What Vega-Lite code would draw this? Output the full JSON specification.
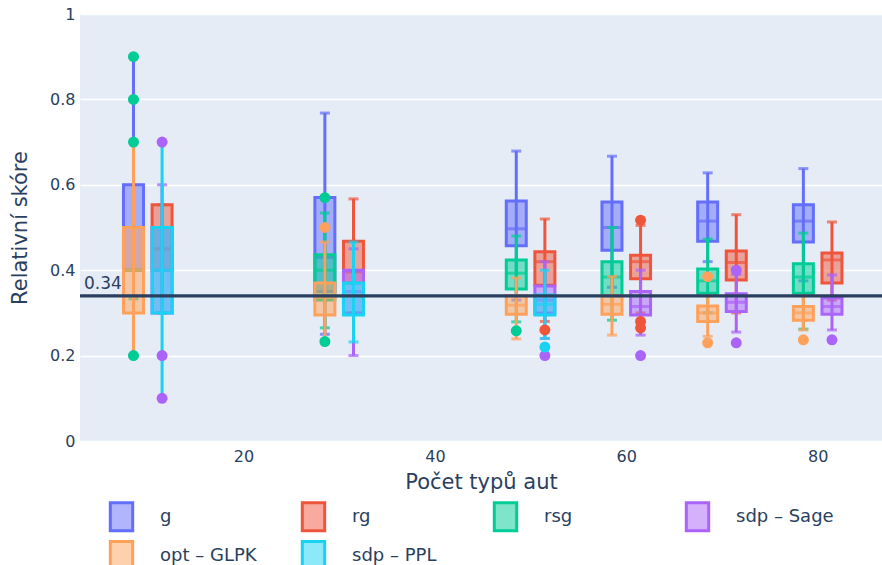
{
"$schema": "https://vega.github.io/schema/vega-lite/v6.json",
"width": 802, "height": 427,
"autosize": {"type": "none"},
"padding": {"left": 80, "top": 14, "right": 0, "bottom": 124},
"background": "white",
"datasets": {
"boxes": [
{"trace":"g","side":"L","n":10,"lower":0.2,"q1":0.4,"median":0.5,"q3":0.6,"upper":0.9},
{"trace":"g","side":"L","n":30,"lower":0.25,"q1":0.35,"median":0.43,"q3":0.57,"upper":0.768},
{"trace":"g","side":"L","n":50,"lower":0.33,"q1":0.457,"median":0.497,"q3":0.562,"upper":0.679},
{"trace":"g","side":"L","n":60,"lower":0.36,"q1":0.447,"median":0.5,"q3":0.56,"upper":0.667},
{"trace":"g","side":"L","n":70,"lower":0.42,"q1":0.468,"median":0.515,"q3":0.56,"upper":0.628},
{"trace":"g","side":"L","n":80,"lower":0.375,"q1":0.466,"median":0.515,"q3":0.553,"upper":0.638},
{"trace":"rg","side":"R","n":10,"lower":0.3,"q1":0.4,"median":0.45,"q3":0.553,"upper":0.553},
{"trace":"rg","side":"R","n":30,"lower":0.3,"q1":0.37,"median":0.396,"q3":0.468,"upper":0.567},
{"trace":"rg","side":"R","n":50,"lower":0.28,"q1":0.365,"median":0.42,"q3":0.443,"upper":0.52},
{"trace":"rg","side":"R","n":60,"lower":0.3,"q1":0.38,"median":0.42,"q3":0.435,"upper":0.505},
{"trace":"rg","side":"R","n":70,"lower":0.3,"q1":0.377,"median":0.418,"q3":0.445,"upper":0.53},
{"trace":"rg","side":"R","n":80,"lower":0.33,"q1":0.37,"median":0.424,"q3":0.44,"upper":0.513},
{"trace":"rsg","side":"L","n":10,"lower":0.333,"q1":0.4,"median":0.4,"q3":0.4,"upper":0.4},
{"trace":"rsg","side":"L","n":30,"lower":0.265,"q1":0.33,"median":0.4,"q3":0.436,"upper":0.534},
{"trace":"rsg","side":"L","n":50,"lower":0.279,"q1":0.356,"median":0.393,"q3":0.424,"upper":0.48},
{"trace":"rsg","side":"L","n":60,"lower":0.283,"q1":0.34,"median":0.384,"q3":0.42,"upper":0.5},
{"trace":"rsg","side":"L","n":70,"lower":0.3,"q1":0.346,"median":0.375,"q3":0.403,"upper":0.473},
{"trace":"rsg","side":"L","n":80,"lower":0.262,"q1":0.346,"median":0.384,"q3":0.415,"upper":0.487},
{"trace":"sdp – Sage","side":"R","n":10,"lower":0.3,"q1":0.3,"median":0.4,"q3":0.5,"upper":0.6},
{"trace":"sdp – Sage","side":"R","n":30,"lower":0.2,"q1":0.3,"median":0.35,"q3":0.4,"upper":0.45},
{"trace":"sdp – Sage","side":"R","n":50,"lower":0.24,"q1":0.3,"median":0.33,"q3":0.363,"upper":0.42},
{"trace":"sdp – Sage","side":"R","n":60,"lower":0.248,"q1":0.295,"median":0.315,"q3":0.35,"upper":0.4},
{"trace":"sdp – Sage","side":"R","n":70,"lower":0.255,"q1":0.303,"median":0.325,"q3":0.345,"upper":0.39},
{"trace":"sdp – Sage","side":"R","n":80,"lower":0.26,"q1":0.297,"median":0.315,"q3":0.335,"upper":0.389},
{"trace":"opt – GLPK","side":"L","n":10,"lower":0.2,"q1":0.3,"median":0.4,"q3":0.5,"upper":0.7},
{"trace":"opt – GLPK","side":"L","n":30,"lower":0.237,"q1":0.295,"median":0.337,"q3":0.37,"upper":0.466},
{"trace":"opt – GLPK","side":"L","n":50,"lower":0.239,"q1":0.297,"median":0.318,"q3":0.34,"upper":0.382},
{"trace":"opt – GLPK","side":"L","n":60,"lower":0.248,"q1":0.297,"median":0.32,"q3":0.34,"upper":0.385},
{"trace":"opt – GLPK","side":"L","n":70,"lower":0.245,"q1":0.28,"median":0.3,"q3":0.316,"upper":0.34},
{"trace":"opt – GLPK","side":"L","n":80,"lower":0.26,"q1":0.283,"median":0.3,"q3":0.315,"upper":0.34},
{"trace":"sdp – PPL","side":"R","n":10,"lower":0.1,"q1":0.3,"median":0.4,"q3":0.5,"upper":0.7},
{"trace":"sdp – PPL","side":"R","n":30,"lower":0.232,"q1":0.295,"median":0.34,"q3":0.37,"upper":0.466},
{"trace":"sdp – PPL","side":"R","n":50,"lower":0.24,"q1":0.295,"median":0.32,"q3":0.342,"upper":0.4}
],
"outliers": [
{"trace":"rsg","side":"L","n":10,"value":0.9},
{"trace":"rsg","side":"L","n":10,"value":0.8},
{"trace":"rsg","side":"L","n":10,"value":0.7},
{"trace":"rsg","side":"L","n":10,"value":0.2},
{"trace":"sdp – Sage","side":"R","n":10,"value":0.7},
{"trace":"sdp – Sage","side":"R","n":10,"value":0.2},
{"trace":"sdp – Sage","side":"R","n":10,"value":0.1},
{"trace":"rsg","side":"L","n":30,"value":0.57},
{"trace":"rsg","side":"L","n":30,"value":0.233},
{"trace":"opt – GLPK","side":"L","n":30,"value":0.5},
{"trace":"rsg","side":"L","n":50,"value":0.258},
{"trace":"rg","side":"R","n":50,"value":0.26},
{"trace":"sdp – Sage","side":"R","n":50,"value":0.2},
{"trace":"sdp – PPL","side":"R","n":50,"value":0.22},
{"trace":"rg","side":"R","n":60,"value":0.517},
{"trace":"rg","side":"R","n":60,"value":0.28},
{"trace":"rg","side":"R","n":60,"value":0.265},
{"trace":"sdp – Sage","side":"R","n":60,"value":0.2},
{"trace":"opt – GLPK","side":"L","n":70,"value":0.385},
{"trace":"opt – GLPK","side":"L","n":70,"value":0.23},
{"trace":"sdp – Sage","side":"R","n":70,"value":0.4},
{"trace":"sdp – Sage","side":"R","n":70,"value":0.23},
{"trace":"opt – GLPK","side":"L","n":80,"value":0.237},
{"trace":"sdp – Sage","side":"R","n":80,"value":0.237}
],
"ref": [{"value": 0.34, "label": "0.34"}]
},
"config": {
"font": "DejaVu Sans",
"view": {"fill": "#E5ECF6", "stroke": null},
"axis": {"domain": false, "ticks": false, "gridColor": "white", "gridWidth": 1.3, "labelColor": "#2a3f5f", "labelFontSize": 16, "titleColor": "#2a3f5f", "titleFontSize": 21, "titleFontWeight": "normal"}
},
"layer": [
 {"data": {"name": "boxes"}, "transform": [{"filter": "datum.trace === 'g'"}], "mark": {"type": "rule", "strokeWidth": 3, "color": "#636EFA", "xOffset": -14.3}, "encoding": {"x": {"field": "n", "type": "quantitative", "scale": {"domain": [3.44, 86.2], "nice": false, "zero": false}, "axis": {"values": [20, 40, 60, 80], "grid": false, "labelPadding": 7, "titlePadding": 7}, "title": "Počet typů aut"}, "y": {"field": "lower", "type": "quantitative"}, "y2": {"field": "upper"}}},
 {"data": {"name": "boxes"}, "transform": [{"filter": "datum.trace === 'g'"}], "mark": {"type": "tick", "orient": "horizontal", "size": 10, "thickness": 3, "color": "#636EFA", "xOffset": -14.3}, "encoding": {"x": {"field": "n", "type": "quantitative"}, "y": {"field": "lower", "type": "quantitative"}}},
 {"data": {"name": "boxes"}, "transform": [{"filter": "datum.trace === 'g'"}], "mark": {"type": "tick", "orient": "horizontal", "size": 10, "thickness": 3, "color": "#636EFA", "xOffset": -14.3}, "encoding": {"x": {"field": "n", "type": "quantitative"}, "y": {"field": "upper", "type": "quantitative"}}},
 {"data": {"name": "boxes"}, "transform": [{"filter": "datum.trace === 'g'"}], "mark": {"type": "bar", "size": 20, "fillOpacity": 0.5, "strokeWidth": 3, "xOffset": -14.3}, "encoding": {"x": {"field": "n", "type": "quantitative"}, "y": {"field": "q1", "type": "quantitative"}, "y2": {"field": "q3"},
   "fill": {"field": "trace", "type": "nominal", "scale": {"domain": ["g", "rg", "rsg", "sdp – Sage", "opt – GLPK", "sdp – PPL"], "range": ["#636EFA", "#EF553B", "#00CC96", "#AB63FA", "#FFA15A", "#19D3F3"]},
     "legend": {"orient": "none", "legendX": 26, "legendY": 487, "direction": "horizontal", "columns": 4, "gridAlign": "all", "columnPadding": 38, "rowPadding": -2, "symbolType": "M-0.8,-1H0.8V1H-0.8Z", "symbolSize": 784, "symbolStrokeWidth": 3, "labelFontSize": 18, "labelColor": "#2a3f5f", "labelOffset": 23, "labelLimit": 300, "padding": 0, "title": null,
       "encode": {"symbols": {"update": {"fillOpacity": {"value": 0.5}, "stroke": {"scale": "stroke", "field": "value"}, "strokeWidth": {"value": 3}}}}}},
   "stroke": {"field": "trace", "type": "nominal", "legend": null, "scale": {"domain": ["g", "rg", "rsg", "sdp – Sage", "opt – GLPK", "sdp – PPL"], "range": ["#636EFA", "#EF553B", "#00CC96", "#AB63FA", "#FFA15A", "#19D3F3"]}}}},
 {"data": {"name": "boxes"}, "transform": [{"filter": "datum.trace === 'g'"}], "mark": {"type": "tick", "orient": "horizontal", "size": 20, "thickness": 3, "color": "#636EFA", "xOffset": -14.3}, "encoding": {"x": {"field": "n", "type": "quantitative"}, "y": {"field": "median", "type": "quantitative"}}},

 {"data": {"name": "boxes"}, "transform": [{"filter": "datum.trace === 'rg'"}], "mark": {"type": "rule", "strokeWidth": 3, "color": "#EF553B", "xOffset": 14.3}, "encoding": {"x": {"field": "n", "type": "quantitative"}, "y": {"field": "lower", "type": "quantitative"}, "y2": {"field": "upper"}}},
 {"data": {"name": "boxes"}, "transform": [{"filter": "datum.trace === 'rg'"}], "mark": {"type": "tick", "orient": "horizontal", "size": 10, "thickness": 3, "color": "#EF553B", "xOffset": 14.3}, "encoding": {"x": {"field": "n", "type": "quantitative"}, "y": {"field": "lower", "type": "quantitative"}}},
 {"data": {"name": "boxes"}, "transform": [{"filter": "datum.trace === 'rg'"}], "mark": {"type": "tick", "orient": "horizontal", "size": 10, "thickness": 3, "color": "#EF553B", "xOffset": 14.3}, "encoding": {"x": {"field": "n", "type": "quantitative"}, "y": {"field": "upper", "type": "quantitative"}}},
 {"data": {"name": "boxes"}, "transform": [{"filter": "datum.trace === 'rg'"}], "mark": {"type": "bar", "size": 20, "fillOpacity": 0.5, "strokeWidth": 3, "xOffset": 14.3}, "encoding": {"x": {"field": "n", "type": "quantitative"}, "y": {"field": "q1", "type": "quantitative"}, "y2": {"field": "q3"}, "fill": {"field": "trace", "type": "nominal"}, "stroke": {"field": "trace", "type": "nominal", "legend": null}}},
 {"data": {"name": "boxes"}, "transform": [{"filter": "datum.trace === 'rg'"}], "mark": {"type": "tick", "orient": "horizontal", "size": 20, "thickness": 3, "color": "#EF553B", "xOffset": 14.3}, "encoding": {"x": {"field": "n", "type": "quantitative"}, "y": {"field": "median", "type": "quantitative"}}},

 {"data": {"name": "boxes"}, "transform": [{"filter": "datum.trace === 'rsg'"}], "mark": {"type": "rule", "strokeWidth": 3, "color": "#00CC96", "xOffset": -14.3}, "encoding": {"x": {"field": "n", "type": "quantitative"}, "y": {"field": "lower", "type": "quantitative"}, "y2": {"field": "upper"}}},
 {"data": {"name": "boxes"}, "transform": [{"filter": "datum.trace === 'rsg'"}], "mark": {"type": "tick", "orient": "horizontal", "size": 10, "thickness": 3, "color": "#00CC96", "xOffset": -14.3}, "encoding": {"x": {"field": "n", "type": "quantitative"}, "y": {"field": "lower", "type": "quantitative"}}},
 {"data": {"name": "boxes"}, "transform": [{"filter": "datum.trace === 'rsg'"}], "mark": {"type": "tick", "orient": "horizontal", "size": 10, "thickness": 3, "color": "#00CC96", "xOffset": -14.3}, "encoding": {"x": {"field": "n", "type": "quantitative"}, "y": {"field": "upper", "type": "quantitative"}}},
 {"data": {"name": "boxes"}, "transform": [{"filter": "datum.trace === 'rsg'"}], "mark": {"type": "bar", "size": 20, "fillOpacity": 0.5, "strokeWidth": 3, "xOffset": -14.3}, "encoding": {"x": {"field": "n", "type": "quantitative"}, "y": {"field": "q1", "type": "quantitative"}, "y2": {"field": "q3"}, "fill": {"field": "trace", "type": "nominal"}, "stroke": {"field": "trace", "type": "nominal", "legend": null}}},
 {"data": {"name": "boxes"}, "transform": [{"filter": "datum.trace === 'rsg'"}], "mark": {"type": "tick", "orient": "horizontal", "size": 20, "thickness": 3, "color": "#00CC96", "xOffset": -14.3}, "encoding": {"x": {"field": "n", "type": "quantitative"}, "y": {"field": "median", "type": "quantitative"}}},

 {"data": {"name": "boxes"}, "transform": [{"filter": "datum.trace === 'sdp – Sage'"}], "mark": {"type": "rule", "strokeWidth": 3, "color": "#AB63FA", "xOffset": 14.3}, "encoding": {"x": {"field": "n", "type": "quantitative"}, "y": {"field": "lower", "type": "quantitative"}, "y2": {"field": "upper"}}},
 {"data": {"name": "boxes"}, "transform": [{"filter": "datum.trace === 'sdp – Sage'"}], "mark": {"type": "tick", "orient": "horizontal", "size": 10, "thickness": 3, "color": "#AB63FA", "xOffset": 14.3}, "encoding": {"x": {"field": "n", "type": "quantitative"}, "y": {"field": "lower", "type": "quantitative"}}},
 {"data": {"name": "boxes"}, "transform": [{"filter": "datum.trace === 'sdp – Sage'"}], "mark": {"type": "tick", "orient": "horizontal", "size": 10, "thickness": 3, "color": "#AB63FA", "xOffset": 14.3}, "encoding": {"x": {"field": "n", "type": "quantitative"}, "y": {"field": "upper", "type": "quantitative"}}},
 {"data": {"name": "boxes"}, "transform": [{"filter": "datum.trace === 'sdp – Sage'"}], "mark": {"type": "bar", "size": 20, "fillOpacity": 0.5, "strokeWidth": 3, "xOffset": 14.3}, "encoding": {"x": {"field": "n", "type": "quantitative"}, "y": {"field": "q1", "type": "quantitative"}, "y2": {"field": "q3"}, "fill": {"field": "trace", "type": "nominal"}, "stroke": {"field": "trace", "type": "nominal", "legend": null}}},
 {"data": {"name": "boxes"}, "transform": [{"filter": "datum.trace === 'sdp – Sage'"}], "mark": {"type": "tick", "orient": "horizontal", "size": 20, "thickness": 3, "color": "#AB63FA", "xOffset": 14.3}, "encoding": {"x": {"field": "n", "type": "quantitative"}, "y": {"field": "median", "type": "quantitative"}}},

 {"data": {"name": "boxes"}, "transform": [{"filter": "datum.trace === 'opt – GLPK'"}], "mark": {"type": "rule", "strokeWidth": 3, "color": "#FFA15A", "xOffset": -14.3}, "encoding": {"x": {"field": "n", "type": "quantitative"}, "y": {"field": "lower", "type": "quantitative"}, "y2": {"field": "upper"}}},
 {"data": {"name": "boxes"}, "transform": [{"filter": "datum.trace === 'opt – GLPK'"}], "mark": {"type": "tick", "orient": "horizontal", "size": 10, "thickness": 3, "color": "#FFA15A", "xOffset": -14.3}, "encoding": {"x": {"field": "n", "type": "quantitative"}, "y": {"field": "lower", "type": "quantitative"}}},
 {"data": {"name": "boxes"}, "transform": [{"filter": "datum.trace === 'opt – GLPK'"}], "mark": {"type": "tick", "orient": "horizontal", "size": 10, "thickness": 3, "color": "#FFA15A", "xOffset": -14.3}, "encoding": {"x": {"field": "n", "type": "quantitative"}, "y": {"field": "upper", "type": "quantitative"}}},
 {"data": {"name": "boxes"}, "transform": [{"filter": "datum.trace === 'opt – GLPK'"}], "mark": {"type": "bar", "size": 20, "fillOpacity": 0.5, "strokeWidth": 3, "xOffset": -14.3}, "encoding": {"x": {"field": "n", "type": "quantitative"}, "y": {"field": "q1", "type": "quantitative"}, "y2": {"field": "q3"}, "fill": {"field": "trace", "type": "nominal"}, "stroke": {"field": "trace", "type": "nominal", "legend": null}}},
 {"data": {"name": "boxes"}, "transform": [{"filter": "datum.trace === 'opt – GLPK'"}], "mark": {"type": "tick", "orient": "horizontal", "size": 20, "thickness": 3, "color": "#FFA15A", "xOffset": -14.3}, "encoding": {"x": {"field": "n", "type": "quantitative"}, "y": {"field": "median", "type": "quantitative"}}},

 {"data": {"name": "boxes"}, "transform": [{"filter": "datum.trace === 'sdp – PPL'"}], "mark": {"type": "rule", "strokeWidth": 3, "color": "#19D3F3", "xOffset": 14.3}, "encoding": {"x": {"field": "n", "type": "quantitative"}, "y": {"field": "lower", "type": "quantitative"}, "y2": {"field": "upper"}}},
 {"data": {"name": "boxes"}, "transform": [{"filter": "datum.trace === 'sdp – PPL'"}], "mark": {"type": "tick", "orient": "horizontal", "size": 10, "thickness": 3, "color": "#19D3F3", "xOffset": 14.3}, "encoding": {"x": {"field": "n", "type": "quantitative"}, "y": {"field": "lower", "type": "quantitative"}}},
 {"data": {"name": "boxes"}, "transform": [{"filter": "datum.trace === 'sdp – PPL'"}], "mark": {"type": "tick", "orient": "horizontal", "size": 10, "thickness": 3, "color": "#19D3F3", "xOffset": 14.3}, "encoding": {"x": {"field": "n", "type": "quantitative"}, "y": {"field": "upper", "type": "quantitative"}}},
 {"data": {"name": "boxes"}, "transform": [{"filter": "datum.trace === 'sdp – PPL'"}], "mark": {"type": "bar", "size": 20, "fillOpacity": 0.5, "strokeWidth": 3, "xOffset": 14.3}, "encoding": {"x": {"field": "n", "type": "quantitative"}, "y": {"field": "q1", "type": "quantitative"}, "y2": {"field": "q3"}, "fill": {"field": "trace", "type": "nominal"}, "stroke": {"field": "trace", "type": "nominal", "legend": null}}},
 {"data": {"name": "boxes"}, "transform": [{"filter": "datum.trace === 'sdp – PPL'"}], "mark": {"type": "tick", "orient": "horizontal", "size": 20, "thickness": 3, "color": "#19D3F3", "xOffset": 14.3}, "encoding": {"x": {"field": "n", "type": "quantitative"}, "y": {"field": "median", "type": "quantitative"}}},

 {"data": {"name": "outliers"}, "transform": [{"filter": "datum.side === 'L'"}], "mark": {"type": "circle", "size": 120, "opacity": 1, "xOffset": -14.3}, "encoding": {"x": {"field": "n", "type": "quantitative"}, "y": {"field": "value", "type": "quantitative"}, "color": {"field": "trace", "type": "nominal", "legend": null, "scale": {"domain": ["g", "rg", "rsg", "sdp – Sage", "opt – GLPK", "sdp – PPL"], "range": ["#636EFA", "#EF553B", "#00CC96", "#AB63FA", "#FFA15A", "#19D3F3"]}}}},
 {"data": {"name": "outliers"}, "transform": [{"filter": "datum.side === 'R'"}], "mark": {"type": "circle", "size": 120, "opacity": 1, "xOffset": 14.3}, "encoding": {"x": {"field": "n", "type": "quantitative"}, "y": {"field": "value", "type": "quantitative"}, "color": {"field": "trace", "type": "nominal", "legend": null}}},
 {"data": {"name": "ref"}, "mark": {"type": "rule", "color": "#2a3f5f", "strokeWidth": 3.3}, "encoding": {"y": {"field": "value", "type": "quantitative", "scale": {"domain": [0, 1]}, "axis": {"values": [0, 0.2, 0.4, 0.6, 0.8, 1], "format": ".1~f", "labelPadding": 5, "titlePadding": 19}, "title": "Relativní skóre"}}},
 {"data": {"name": "ref"}, "mark": {"type": "text", "align": "left", "baseline": "bottom", "dx": -1, "dy": -3, "fontSize": 17, "color": "#2a3f5f"}, "encoding": {"text": {"field": "label"}, "x": {"datum": 3.44, "type": "quantitative"}, "y": {"field": "value", "type": "quantitative"}}}
]
}
